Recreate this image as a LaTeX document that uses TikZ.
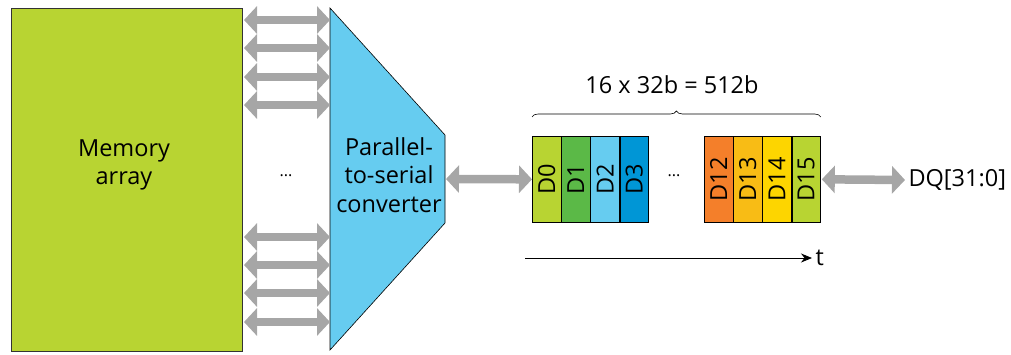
\documentclass[tikz,border=0pt]{standalone}
\usepackage{fontspec}
\setmainfont{Open Sans}
\usetikzlibrary{arrows.meta,decorations.pathreplacing,calc}
\definecolor{lime}{HTML}{B8D432}
\definecolor{leaf}{HTML}{5BB947}
\definecolor{sky}{HTML}{66CCF0}
\definecolor{ocean}{HTML}{0096D6}
\definecolor{tang}{HTML}{F47F2A}
\definecolor{amber}{HTML}{F8BC15}
\definecolor{sun}{HTML}{FDD500}
\definecolor{busgray}{HTML}{A6A6A6}
\tikzset{
  lbl/.style={font=\fontsize{23.5}{28.5}\selectfont, text=black, align=center},
  bus/.style={draw=busgray, line width=8.5pt,
    {Triangle[length=13pt,width=27pt]}-{Triangle[length=13pt,width=27pt]}},
  beat/.style={draw=black, line width=0.6pt, minimum width=28.6pt, minimum height=86pt,
    inner sep=0pt, anchor=north west},
  beatlbl/.style={font=\fontsize{23.5}{28}\selectfont, rotate=90}
}
\begin{document}
\begin{tikzpicture}[x=1pt,y=-1pt]
\useasboundingbox (0,0) rectangle (1011,354);

% memory array
\node[draw=black!80, line width=1pt, fill=lime, minimum width=231pt, minimum height=343pt,
  anchor=north west, inner sep=0pt] (mem) at (11,8) {};
\node[lbl] at (124,165) {Memory\\array};

% parallel-to-serial converter
\coordinate (cnw) at (330,8);
\coordinate (csw) at (330,350);
\coordinate (cne) at (445,135);
\coordinate (cse) at (445,223);
\draw[fill=sky, draw=black, line width=0.6pt] (cnw) -- (cne) -- (cse) -- (csw) -- cycle;
\node[lbl] (conv) at (389,175) {Parallel-\\to-serial\\converter};
\coordinate (convout) at ($(cne)!0.5!(cse)$);

% parallel buses
\foreach \y in {20,48,77,105,237,265,293,322}
  \draw[bus] (mem.north east |- 0,\y) ++(1,0) -- (cnw |- 0,\y);
\node[font=\fontsize{16}{18}\selectfont] (vdots) at (286,176) {...};

% serial data beats
\node[beat, fill=lime]  (d0)  at (532,136) {};
\node[beat, fill=leaf]  (d1)  at (d0.north east) {};
\node[beat, fill=sky]   (d2)  at (d1.north east) {};
\node[beat, fill=ocean] (d3)  at (d2.north east) {};
\node[beat, fill=tang]  (d12) at (704,136) {};
\node[beat, fill=amber] (d13) at (d12.north east) {};
\node[beat, fill=sun]   (d14) at (d13.north east) {};
\node[beat, fill=lime]  (d15) at (d14.north east) {};
\foreach \n/\t in {d0/D0,d1/D1,d2/D2,d3/D3,d12/D12,d13/D13,d14/D14,d15/D15}
  \node[beatlbl] at (\n) {\t};
\node[font=\fontsize{16}{18}\selectfont] (hdots) at (674,176) {...};

\draw[bus] (convout) ++(1,0) -- (d0.west);
\node[lbl, anchor=west] (dq) at (905,180) {DQ[31:0]};
\draw[bus] (d15.east) ++(1,0) -- (dq.west);

% burst size
\draw[decorate, decoration={brace, amplitude=6pt}, line width=0.6pt]
  ($(d0.north west)+(0,-19)$) -- ($(d15.north east)+(0,-19)$);
\node[lbl] (size) at (672,85) {16 x 32b = 512b};

% time axis
\coordinate (t0) at (525,258);
\node[lbl, anchor=west] (tl) at (812,258) {t};
\draw[-{Stealth[length=11pt,width=9pt]}, line width=0.8pt] (t0) -- (tl.west);
\end{tikzpicture}
\end{document}
